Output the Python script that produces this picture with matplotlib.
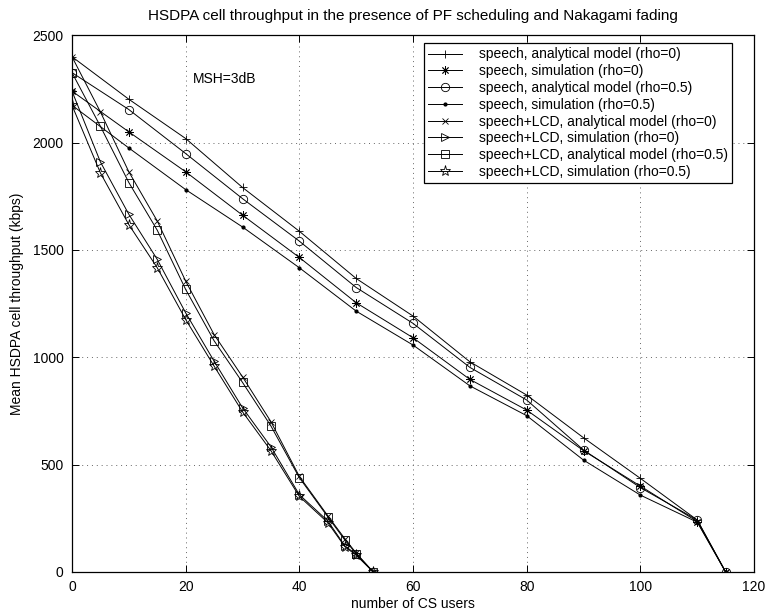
import matplotlib.pyplot as plt

# %%
# numero de usuarios CS em cada ponto
usuarios_speech = [0, 10, 20, 30, 40, 50, 60, 70, 80, 90, 100, 110, 115]
usuarios_lcd = [0, 5, 10, 15, 20, 25, 30, 35, 40, 45, 48, 50, 53]

# throughput medio (kbps) - apenas speech
speech_analitico_rho0 = [2400, 2202, 2019, 1791, 1587, 1367, 1192, 979, 824, 625, 436, 242, 0]
speech_simulacao_rho0 = [2240, 2050, 1864, 1662, 1465, 1254, 1091, 897, 754, 565, 400, 235, 0]
speech_analitico_rho05 = [2326, 2154, 1949, 1739, 1541, 1325, 1158, 953, 801, 568, 393, 242, 0]
speech_simulacao_rho05 = [2174, 1975, 1781, 1607, 1417, 1215, 1057, 867, 728, 521, 358, 232, 0]

# throughput medio (kbps) - speech+LCD
lcd_analitico_rho0 = [2400, 2143, 1864, 1635, 1355, 1106, 909, 700, 445, 262, 155, 88, 0]
lcd_simulacao_rho0 = [2240, 1910, 1666, 1456, 1207, 982, 765, 583, 360, 238, 122, 82, 0]
lcd_analitico_rho05 = [2326, 2076, 1814, 1592, 1316, 1077, 883, 680, 439, 257, 149, 85, 0]
lcd_simulacao_rho05 = [2174, 1859, 1618, 1417, 1176, 959, 746, 565, 352, 230, 118, 78, 0]

legendas = [
    'speech, analytical model (rho=0)',
    'speech, simulation (rho=0)',
    'speech, analytical model (rho=0.5)',
    'speech, simulation (rho=0.5)',
    'speech+LCD, analytical model (rho=0)',
    'speech+LCD, simulation (rho=0)',
    'speech+LCD, analytical model (rho=0.5)',
    'speech+LCD, simulation (rho=0.5)',
]

# %%
plt.rcParams['font.family'] = ['Liberation Sans', 'DejaVu Sans']
plt.rcParams['font.size'] = 10

fig = plt.figure(figsize=(7.69, 6.12), dpi=100)
ax = fig.add_axes([0.0936, 0.0654, 0.887, 0.877])

asterisco = (8, 2, 0)  # asterisco estilo matlab (+ e x juntos)
estilo = dict(color='black', linewidth=0.7, markersize=6, markeredgewidth=0.6,
              markerfacecolor='none')

series = [
    (usuarios_speech, speech_analitico_rho0, '+'),
    (usuarios_speech, speech_simulacao_rho0, asterisco),
    (usuarios_speech, speech_analitico_rho05, 'o'),
    (usuarios_speech, speech_simulacao_rho05, '.'),
    (usuarios_lcd, lcd_analitico_rho0, 'x'),
    (usuarios_lcd, lcd_simulacao_rho0, '>'),
    (usuarios_lcd, lcd_analitico_rho05, 's'),
    (usuarios_lcd, lcd_simulacao_rho05, '*'),
]
for (x, y, marcador), rotulo in zip(series, legendas):
    if marcador == '.':
        ax.plot(x, y, marker='.', label=rotulo, color='black', linewidth=0.7, markersize=4)
    elif marcador == 'x':
        ax.plot(x, y, marker='x', label=rotulo, color='black', linewidth=0.7,
                markersize=5, markeredgewidth=0.6)
    elif marcador == '*':
        ax.plot(x, y, marker='*', label=rotulo, color='black', linewidth=0.7,
                markersize=8, markeredgewidth=0.6, markerfacecolor='none')
    else:
        ax.plot(x, y, marker=marcador, label=rotulo, **estilo)

ax.set_xlim(0, 120)
ax.set_ylim(0, 2500)
ax.set_xticks(range(0, 121, 20))
ax.set_yticks(range(0, 2501, 500))
ax.tick_params(direction='in', length=5, width=0.7, top=True, right=True, pad=6)
ax.grid(True, linestyle=(0, (1, 4)), color='0.4', linewidth=0.7)
for lado in ax.spines.values():
    lado.set_linewidth(0.9)

ax.set_title('HSDPA cell throughput in the presence of PF scheduling and Nakagami fading',
             fontsize=11, pad=11)
ax.set_xlabel('number of CS users', labelpad=2)
ax.set_ylabel('Mean HSDPA cell throughput (kbps)', labelpad=6)

ax.text(21.3, 2295, 'MSH=3dB', ha='left', va='center')

ax.legend(loc='upper right', bbox_to_anchor=(0.968, 0.985), borderaxespad=0,
          fancybox=False, edgecolor='black', framealpha=1, handlelength=2.5,
          handletextpad=1.2, labelspacing=0.2, borderpad=0.3)
ax.get_legend().get_frame().set_linewidth(0.9)

plt.savefig('out.png', dpi=100)
